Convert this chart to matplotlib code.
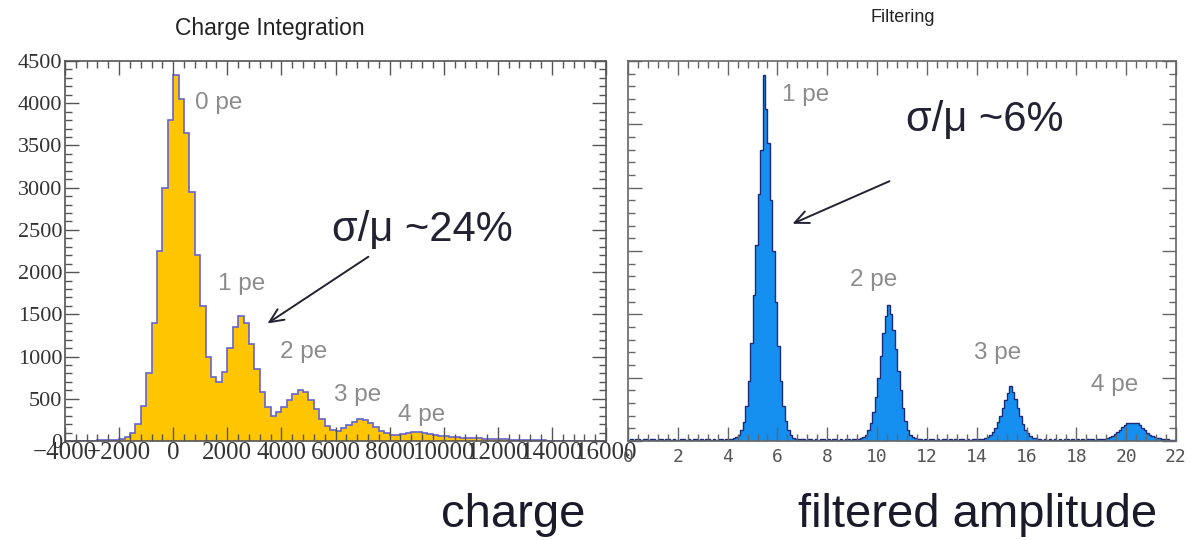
import numpy as np
import matplotlib
matplotlib.use("Agg")
import matplotlib.pyplot as plt
from matplotlib.ticker import MultipleLocator, NullFormatter

# Charge integration spectrum: 200-wide bins from -4000 to 16000
charge_range = (-4000, 16000)
charge_bin = 200
charge_counts = [
    0, 0, 2, 3, 4, 5, 6, 8, 10, 15,
    25, 45, 90, 200, 420, 800, 1400, 2250, 3000, 3800,
    4330, 4050, 3650, 2950, 2200, 1600, 1000, 760, 700, 820,
    1100, 1350, 1480, 1400, 1150, 850, 580, 400, 300, 340,
    400, 490, 560, 605, 580, 490, 380, 260, 180, 130,
    120, 150, 190, 230, 260, 250, 210, 160, 120, 90,
    75, 70, 80, 95, 110, 105, 90, 80, 70, 60,
    55, 50, 45, 40, 35, 32, 30, 28, 25, 22,
    20, 18, 15, 13, 11, 9, 8, 7, 6, 5,
    4, 4, 3, 3, 2, 2, 1, 1, 0, 0,
]

# Filtered amplitude spectrum: 0.1-wide bins from 0 to 22
amp_range = (0, 22)
amp_counts = [
    20, 25, 20, 30, 25, 20, 25, 30, 20, 25,
    25, 20, 30, 25, 20, 25, 30, 20, 25, 20,
    20, 25, 30, 20, 25, 20, 30, 25, 20, 25,
    20, 30, 25, 20, 25, 20, 30, 25, 20, 30,
    25, 30, 40, 60, 100, 170, 300, 550, 950, 1550,
    2300, 3100, 3900, 4600, 5780, 5250, 4700, 3800, 3000, 2200,
    1500, 950, 560, 320, 170, 90, 55, 35, 30, 25,
    25, 20, 25, 30, 20, 25, 20, 25, 30, 20,
    25, 20, 30, 25, 20, 25, 20, 30, 25, 20,
    25, 30, 30, 40, 60, 100, 170, 290, 460, 700,
    1000, 1350, 1700, 1980, 2150, 2000, 1750, 1450, 1100, 800,
    520, 320, 180, 100, 60, 40, 30, 25, 20, 25,
    20, 25, 30, 20, 25, 20, 25, 30, 20, 25,
    20, 25, 20, 30, 25, 20, 25, 20, 30, 25,
    30, 30, 35, 45, 60, 90, 140, 210, 300, 400,
    520, 650, 760, 870, 780, 660, 520, 390, 270, 180,
    120, 80, 55, 40, 30, 25, 20, 25, 20, 25,
    20, 25, 20, 25, 20, 25, 30, 20, 25, 20,
    25, 20, 25, 20, 25, 30, 25, 20, 25, 30,
    30, 35, 45, 60, 80, 110, 140, 180, 220, 260,
    280, 290, 290, 290, 280, 250, 210, 170, 130, 100,
    75, 60, 50, 40, 35, 30, 25, 20, 20, 15,
]

pe_labels = ["0 pe", "1 pe", "2 pe", "3 pe", "4 pe"]
amp_pe_labels = ["1 pe", "2 pe", "3 pe", "4 pe"]
charge_res_text = "σ/μ ~24%"
amp_res_text = "σ/μ ~6%"

W, H = 1198, 540
fig = plt.figure(figsize=(W / 100, H / 100), dpi=100)
fig.patch.set_facecolor("white")

SANS = ["Liberation Sans", "DejaVu Sans"]
SERIF = ["Liberation Serif", "DejaVu Serif"]


def px_axes(x0, y0, x1, y1):
    return fig.add_axes([x0 / W, 1 - y1 / H, (x1 - x0) / W, (y1 - y0) / H])


def style_frame(ax, color):
    for s in ax.spines.values():
        s.set_color(color)
        s.set_linewidth(1.2)
    ax.tick_params(which="both", direction="in", top=True, right=True,
                   color=color, width=1.0)
    ax.tick_params(which="major", length=10)
    ax.tick_params(which="minor", length=5)


# ---------------- Charge integration ----------------
ax1 = px_axes(65, 61, 606, 441)
edges1 = np.arange(charge_range[0], charge_range[1] + charge_bin / 2, charge_bin)
ax1.stairs(charge_counts, edges1, fill=True, facecolor="#FFC600", edgecolor="none")
ax1.stairs(charge_counts, edges1, color="#6464D2", linewidth=1.2)
ax1.set_xlim(*charge_range)
ax1.set_ylim(0, 4500)
ax1.xaxis.set_major_locator(MultipleLocator(2000))
ax1.xaxis.set_minor_locator(MultipleLocator(400))
ax1.yaxis.set_major_locator(MultipleLocator(500))
ax1.yaxis.set_minor_locator(MultipleLocator(100))
style_frame(ax1, "#555555")
ax1.tick_params(axis="y", which="major", labelsize=16, labelcolor="#333333", pad=2)
ax1.tick_params(axis="x", which="major", labelsize=18, labelcolor="#333333", pad=1)
ax1.xaxis.set_major_formatter(plt.FuncFormatter(
    lambda v, p: ("\u2212%d" % -v) if v < 0 else "%d" % v))
for lab in ax1.get_xticklabels() + ax1.get_yticklabels():
    lab.set_family(SERIF)

pe_pos1 = [(800, 4000), (1650, 1860), (3950, 1050), (5950, 550), (8300, 310)]
for txt, (x, y) in zip(pe_labels, pe_pos1):
    ax1.text(x, y, txt, fontsize=17.5, color="#8c8c8c", family=SANS,
             ha="left", va="center")

ax1.text(9200, 2500, charge_res_text, fontsize=30, color="#222233",
         family=SANS, ha="center", va="center")
ax1.annotate("", xy=(3400, 1374), xytext=(7300, 2200),
             arrowprops=dict(arrowstyle="->,head_length=1.0,head_width=0.45",
                             color="#222233", lw=1.4))

fig.text(270 / W, 1 - 28 / H, "Charge Integration", fontsize=16.5,
         family=SANS, color="#222222", ha="center", va="center")

# ---------------- Filtering ----------------
ax2 = px_axes(628, 61, 1176, 441)
edges2 = np.linspace(amp_range[0], amp_range[1], len(amp_counts) + 1)
ax2.stairs(amp_counts, edges2, fill=True, facecolor="#1590F0", edgecolor="none")
ax2.stairs(amp_counts, edges2, color="#1c2a78", linewidth=1.0)
ax2.set_xlim(*amp_range)
ax2.set_ylim(0, 6000)
ax2.xaxis.set_major_locator(MultipleLocator(2))
ax2.xaxis.set_minor_locator(MultipleLocator(0.4))
ax2.yaxis.set_major_locator(MultipleLocator(1000))
ax2.yaxis.set_minor_locator(MultipleLocator(200))
ax2.yaxis.set_major_formatter(NullFormatter())
style_frame(ax2, "#666666")
ax2.tick_params(which="major", labelsize=13, labelcolor="#555555", pad=5)
for lab in ax2.get_xticklabels():
    lab.set_family(["DejaVu Sans Mono"])

pe_pos2 = [(6.2, 5470), (8.9, 2540), (13.9, 1390), (18.6, 880)]
for txt, (x, y) in zip(amp_pe_labels, pe_pos2):
    ax2.text(x, y, txt, fontsize=17.5, color="#8c8c8c", family=SANS,
             ha="left", va="center")

ax2.text(14.34, 5070, amp_res_text, fontsize=30, color="#222233",
         family=SANS, ha="center", va="center")
ax2.annotate("", xy=(6.5, 3412), xytext=(10.6, 4120),
             arrowprops=dict(arrowstyle="->,head_length=1.0,head_width=0.45",
                             color="#222233", lw=1.4))

fig.text(903 / W, 1 - 18 / H, "Filtering", fontsize=13,
         family=SANS, color="#222222", ha="center", va="center")

# ---------------- axis captions ----------------
fig.text(513 / W, 1 - 527 / H, "charge", fontsize=34, family=SANS,
         color="#1a1a2a", ha="center", va="baseline")
fig.text(978 / W, 1 - 527 / H, "filtered amplitude", fontsize=34, family=SANS,
         color="#1a1a2a", ha="center", va="baseline")

fig.savefig("out.png", dpi=100, facecolor="white")
